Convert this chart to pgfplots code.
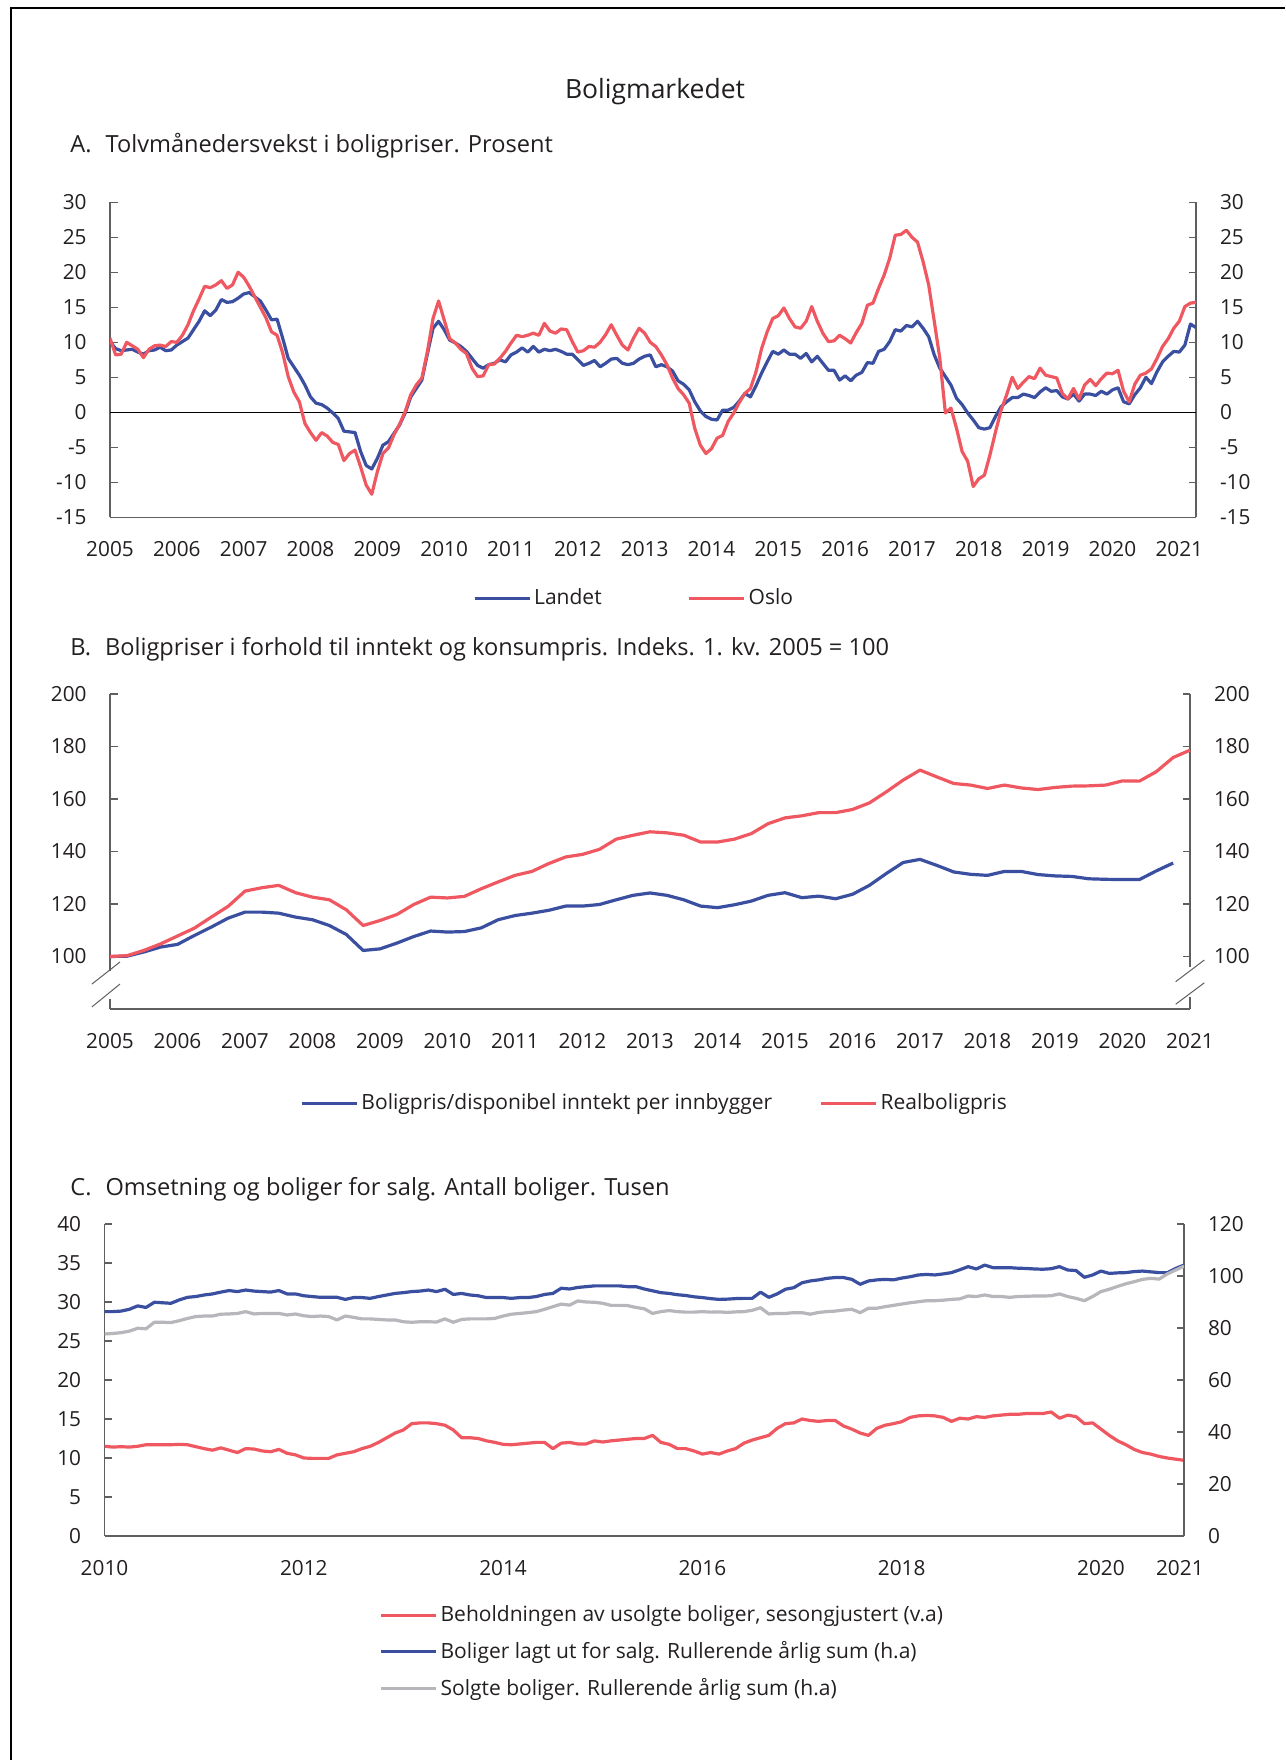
\documentclass[border=0pt]{standalone}
\usepackage{fontspec}
\setmainfont{Open Sans}
\usepackage{pgfplots}
\pgfplotsset{compat=1.18}
\definecolor{cblue}{RGB}{58,79,160}
\definecolor{cred}{RGB}{239,88,96}
\definecolor{cgray}{RGB}{182,182,187}
\definecolor{ctext}{RGB}{35,31,32}
\definecolor{caxis}{RGB}{95,95,95}
\pgfplotsset{
  base/.style={
    scale only axis,
    anchor=south west,
    /pgf/number format/assume math mode=true,
    tick label style={font=\fontsize{10.4}{12}\selectfont, text=ctext},
    tick align=inside,
    major tick length=3.75pt,
    ytick style={caxis, line width=0.6pt},
    xtick style={draw=none},
    axis line style={caxis, line width=0.7pt},
    yticklabel style={inner sep=0pt},
    xticklabel style={inner sep=0pt, anchor=north},
    xticklabel shift=12pt,
    yticklabel shift=11.5pt,
    legend cell align=left,
    legend image code/.code={\draw[#1] (0pt,0pt) -- (27.5pt,0pt);},
    legend style={draw=none, fill=none, inner sep=0pt, font=\fontsize{10.5}{12}\selectfont, text=ctext,
      nodes={inner sep=0pt},
      /tikz/every odd column/.append style={column sep=1.4pt}},
  },
  rlab/.style={
    axis line style={draw=none}, ytick style={draw=none}, xtick=\empty,
    yticklabel pos=right, yticklabel shift=11.8pt,
  },
  dl/.style={line width=1.6pt, line join=round},
}
\begin{document}
\begin{tikzpicture}
\path[use as bounding box] (0,0) rectangle (642.5pt,880pt);
\draw[line width=1.3pt] (5.5pt,0pt) -- (5.5pt,876pt) -- (642.5pt,876pt);
\node[font=\fontsize{13.25}{15}\selectfont, text=ctext] at (327.5pt,834pt) {Boligmarkedet};
\node[anchor=west, font=\fontsize{11.8}{13}\selectfont, text=ctext, inner sep=0pt] at (35pt,807pt) {A.\hspace{7pt}Tolvmånedersvekst i boligpriser. Prosent};
\node[anchor=west, font=\fontsize{11.8}{13}\selectfont, text=ctext, inner sep=0pt] at (35pt,555.5pt) {B.\hspace{7pt}Boligpriser i forhold til inntekt og konsumpris. Indeks. 1. kv. 2005 = 100};
\node[anchor=west, font=\fontsize{11.8}{13}\selectfont, text=ctext, inner sep=0pt] at (35pt,285.5pt) {C.\hspace{7pt}Omsetning og boliger for salg. Antall boliger. Tusen};

% ---------------- Panel A
\begin{axis}[base, at={(55pt,621.35pt)}, width=543pt, height=157.5pt,
  xmin=0, xmax=195, ymin=-15, ymax=30,
  axis x line*=bottom, axis y line*=box,
  ytick={-15,-10,...,30}, yticklabel pos=left,
  xtick={0,12,...,192},
  xticklabels={2005,2006,2007,2008,2009,2010,2011,2012,2013,2014,2015,2016,2017,2018,2019,2020,2021},
  legend style={at={(0.334,-0.257)}, anchor=west, legend columns=2,
    /tikz/every even column/.append style={column sep=43pt}},
]
\draw[black, line width=0.5pt] (axis cs:0,0) -- (axis cs:195,0);
\addplot[cblue, dl] coordinates {
(0,10.1)(1,9.1)(2,8.8)(3,8.9)(4,9.0)(5,8.6)(6,8.3)(7,8.8)(8,8.9)(9,9.3)(10,8.8)(11,8.9)
(12,9.6)(13,10.1)(14,10.6)(15,11.8)(16,13.0)(17,14.5)(18,13.8)(19,14.6)(20,16.1)(21,15.7)(22,15.8)(23,16.3)
(24,16.9)(25,17.1)(26,16.5)(27,15.9)(28,14.6)(29,13.2)(30,13.3)(31,10.6)(32,7.7)(33,6.5)(34,5.3)(35,3.9)
(36,2.2)(37,1.3)(38,1.1)(39,0.6)(40,-0.1)(41,-0.9)(42,-2.7)(43,-2.8)(44,-2.9)(45,-5.6)(46,-7.6)(47,-8.1)
(48,-6.6)(49,-4.7)(50,-4.2)(51,-3.0)(52,-1.8)(53,-0.1)(54,2.2)(55,3.4)(56,4.6)(57,8.4)(58,12.0)(59,13.0)
(60,11.8)(61,10.3)(62,9.9)(63,9.4)(64,8.7)(65,7.7)(66,6.7)(67,6.3)(68,6.8)(69,7.0)(70,7.5)(71,7.2)
(72,8.2)(73,8.6)(74,9.2)(75,8.6)(76,9.4)(77,8.6)(78,9.0)(79,8.8)(80,9.0)(81,8.7)(82,8.3)(83,8.3)
(84,7.5)(85,6.7)(86,7.0)(87,7.4)(88,6.5)(89,7.0)(90,7.6)(91,7.7)(92,7.0)(93,6.8)(94,7.0)(95,7.6)
(96,8.0)(97,8.2)(98,6.5)(99,6.8)(100,6.5)(101,5.9)(102,4.5)(103,4.0)(104,3.2)(105,1.5)(106,0.2)(107,-0.6)
(108,-1.0)(109,-1.1)(110,0.3)(111,0.3)(112,0.7)(113,1.6)(114,2.7)(115,2.2)(116,3.8)(117,5.6)(118,7.2)(119,8.7)
(120,8.3)(121,8.9)(122,8.3)(123,8.3)(124,7.7)(125,8.4)(126,7.2)(127,8.0)(128,7.0)(129,6.0)(130,6.0)(131,4.6)
(132,5.2)(133,4.5)(134,5.3)(135,5.7)(136,7.1)(137,7.0)(138,8.7)(139,9.0)(140,10.1)(141,11.8)(142,11.6)(143,12.4)
(144,12.2)(145,13.0)(146,12.0)(147,10.8)(148,8.2)(149,6.3)(150,5.1)(151,3.9)(152,2.0)(153,1.1)(154,-0.1)(155,-1.1)
(156,-2.2)(157,-2.4)(158,-2.2)(159,-0.6)(160,0.8)(161,1.5)(162,2.1)(163,2.1)(164,2.6)(165,2.4)(166,2.1)(167,2.9)
(168,3.5)(169,3.0)(170,3.1)(171,2.2)(172,1.9)(173,2.6)(174,1.6)(175,2.6)(176,2.6)(177,2.4)(178,3.0)(179,2.6)
(180,3.2)(181,3.5)(182,1.5)(183,1.2)(184,2.5)(185,3.5)(186,5.0)(187,4.1)(188,5.8)(189,7.2)(190,8.0)(191,8.7)
(192,8.6)(193,9.6)(194,12.6)(195,12.1)};
\addlegendentry{Landet}
\addplot[cred, dl] coordinates {
(0,10.6)(1,8.2)(2,8.3)(3,10.0)(4,9.5)(5,9.0)(6,7.8)(7,9.0)(8,9.5)(9,9.6)(10,9.4)(11,10.1)
(12,10.0)(13,11.0)(14,12.5)(15,14.5)(16,16.2)(17,18.0)(18,17.8)(19,18.2)(20,18.8)(21,17.7)(22,18.2)(23,20.0)
(24,19.3)(25,18.0)(26,16.5)(27,15.0)(28,13.5)(29,11.5)(30,11.0)(31,8.5)(32,5.1)(33,2.9)(34,1.5)(35,-1.6)
(36,-2.9)(37,-4.0)(38,-2.9)(39,-3.4)(40,-4.3)(41,-4.6)(42,-6.9)(43,-5.9)(44,-5.4)(45,-7.8)(46,-10.4)(47,-11.7)
(48,-8.5)(49,-5.9)(50,-5.1)(51,-3.2)(52,-1.7)(53,0.1)(54,2.5)(55,3.9)(56,4.9)(57,8.7)(58,13.4)(59,15.9)
(60,13.2)(61,10.5)(62,9.9)(63,9.0)(64,8.4)(65,6.3)(66,5.1)(67,5.2)(68,6.8)(69,6.9)(70,7.7)(71,8.7)
(72,9.9)(73,11.0)(74,10.8)(75,11.0)(76,11.3)(77,11.0)(78,12.7)(79,11.6)(80,11.3)(81,11.9)(82,11.8)(83,10.1)
(84,8.6)(85,8.8)(86,9.4)(87,9.3)(88,10.0)(89,11.1)(90,12.5)(91,11.0)(92,9.6)(93,8.9)(94,10.6)(95,12.0)
(96,11.3)(97,10.0)(98,9.4)(99,8.2)(100,6.8)(101,4.9)(102,3.4)(103,2.5)(104,1.3)(105,-2.3)(106,-4.7)(107,-5.9)
(108,-5.2)(109,-3.7)(110,-3.3)(111,-1.3)(112,-0.1)(113,1.4)(114,2.7)(115,3.4)(116,5.8)(117,9.1)(118,11.5)(119,13.4)
(120,13.8)(121,14.9)(122,13.4)(123,12.2)(124,12.0)(125,13.0)(126,15.1)(127,13.0)(128,11.3)(129,10.1)(130,10.2)(131,11.0)
(132,10.5)(133,9.9)(134,11.4)(135,12.7)(136,15.3)(137,15.6)(138,17.7)(139,19.6)(140,22.0)(141,25.3)(142,25.4)(143,26.0)
(144,25.0)(145,24.3)(146,21.5)(147,18.2)(148,13.0)(149,7.7)(150,-0.1)(151,0.6)(152,-2.3)(153,-5.6)(154,-7.0)(155,-10.6)
(156,-9.5)(157,-9.0)(158,-6.1)(159,-2.8)(160,0.3)(161,2.5)(162,5.0)(163,3.4)(164,4.3)(165,5.1)(166,4.8)(167,6.3)
(168,5.3)(169,5.1)(170,4.9)(171,2.7)(172,1.9)(173,3.4)(174,1.9)(175,3.9)(176,4.7)(177,3.8)(178,4.8)(179,5.6)
(180,5.5)(181,6.0)(182,3.0)(183,1.5)(184,4.0)(185,5.3)(186,5.6)(187,6.2)(188,7.7)(189,9.4)(190,10.5)(191,12.0)
(192,13.0)(193,15.1)(194,15.6)(195,15.7)};
\addlegendentry{Oslo}
\end{axis}
\begin{axis}[base, rlab, at={(55pt,621.35pt)}, width=543pt, height=157.5pt,
  xmin=0, xmax=195, ymin=-15, ymax=30, ytick={-15,-10,...,30}]
\end{axis}

% ---------------- Panel B
\begin{axis}[base, at={(55pt,375.5pt)}, width=540pt, height=157.5pt,
  xmin=0, xmax=64, ymin=80, ymax=200, clip=false,
  axis x line*=bottom, axis y line*=box, y axis line style={draw=none},
  ytick={100,120,...,200}, yticklabel pos=left,
  xtick={0,4,...,64},
  xticklabels={2005,2006,2007,2008,2009,2010,2011,2012,2013,2014,2015,2016,2017,2018,2019,2020,2021},
  legend style={at={(0.176,-0.299)}, anchor=west, legend columns=2,
    /tikz/every even column/.append style={column sep=23.75pt}},
]
\draw[caxis, line width=0.7pt] (axis cs:0,200) -- (axis cs:0,94.5);
\draw[caxis, line width=0.7pt] (axis cs:0,83.8) -- (axis cs:0,80);
\draw[caxis, line width=0.7pt] (axis cs:64,200) -- (axis cs:64,96.1);
\draw[caxis, line width=0.7pt] (axis cs:64,84.7) -- (axis cs:64,80);
\draw[caxis, line width=0.5pt] (axis cs:-1.07,89.5) -- (axis cs:0.59,97.9);
\draw[caxis, line width=0.5pt] (axis cs:-1.07,80.8) -- (axis cs:0.59,89.5);
\draw[caxis, line width=0.5pt] (axis cs:63.15,90.4) -- (axis cs:64.85,98.67);
\draw[caxis, line width=0.5pt] (axis cs:63.15,81.8) -- (axis cs:64.85,90.0);
\addplot[cblue, dl] coordinates {
(0,100.0)(1,100.1)(2,101.7)(3,103.6)(4,104.6)(5,108.0)(6,111.2)(7,114.6)(8,116.9)(9,116.9)(10,116.5)(11,115.0)
(12,114.0)(13,111.8)(14,108.4)(15,102.3)(16,102.9)(17,105.1)(18,107.6)(19,109.7)(20,109.3)(21,109.5)(22,110.9)(23,114.0)
(24,115.6)(25,116.5)(26,117.6)(27,119.2)(28,119.2)(29,119.8)(30,121.6)(31,123.3)(32,124.2)(33,123.3)(34,121.6)(35,119.2)
(36,118.6)(37,119.7)(38,121.1)(39,123.3)(40,124.3)(41,122.4)(42,123.0)(43,122.0)(44,123.7)(45,127.1)(46,131.6)(47,135.8)
(48,137.0)(49,134.7)(50,132.2)(51,131.3)(52,130.9)(53,132.4)(54,132.4)(55,131.2)(56,130.7)(57,130.5)(58,129.6)(59,129.4)
(60,129.3)(61,129.3)(62,132.6)(63,135.6)};
\addlegendentry{Boligpris/disponibel inntekt per innbygger}
\addplot[cred, dl] coordinates {
(0,100.0)(1,100.3)(2,102.3)(3,104.8)(4,107.8)(5,110.8)(6,115.0)(7,119.1)(8,124.9)(9,126.2)(10,127.1)(11,124.3)
(12,122.6)(13,121.6)(14,117.8)(15,111.8)(16,113.7)(17,116.0)(18,119.8)(19,122.6)(20,122.3)(21,122.9)(22,125.8)(23,128.4)
(24,130.9)(25,132.4)(26,135.4)(27,137.9)(28,138.9)(29,140.8)(30,144.7)(31,146.2)(32,147.5)(33,147.1)(34,146.2)(35,143.6)
(36,143.6)(37,144.7)(38,146.8)(39,150.6)(40,152.8)(41,153.6)(42,154.8)(43,154.8)(44,156.0)(45,158.5)(46,162.7)(47,167.2)
(48,171.0)(49,168.4)(50,165.9)(51,165.3)(52,164.0)(53,165.3)(54,164.2)(55,163.6)(56,164.4)(57,164.9)(58,165.0)(59,165.3)
(60,166.9)(61,166.8)(62,170.4)(63,175.8)(64,178.6)};
\addlegendentry{Realboligpris}
\end{axis}
\begin{axis}[base, rlab, at={(55pt,375.5pt)}, width=540pt, height=157.5pt,
  xmin=0, xmax=64, ymin=80, ymax=200, ytick={100,120,...,200}]
\end{axis}

% ---------------- Panel C
\begin{axis}[base, at={(52.25pt,112pt)}, width=539.75pt, height=156pt,
  xmin=0, xmax=130, ymin=0, ymax=40,
  axis x line*=bottom, axis y line*=left,
  ytick={0,5,...,40},
  xtick={0,24,48,72,96,120,129.5},
  xticklabels={2010,2012,2014,2016,2018,2020,2021},
]
\addplot[cred, dl] coordinates {
(0,11.5)(1,11.4)(2,11.45)(3,11.4)(4,11.5)(5,11.7)(6,11.7)(7,11.7)(8,11.7)(9,11.75)(10,11.7)(11,11.45)
(12,11.2)(13,11.0)(14,11.3)(15,11.0)(16,10.7)(17,11.2)(18,11.15)(19,10.9)(20,10.8)(21,11.1)(22,10.6)(23,10.4)
(24,10.0)(25,9.95)(26,9.95)(27,9.95)(28,10.4)(29,10.6)(30,10.8)(31,11.2)(32,11.5)(33,12.0)(34,12.6)(35,13.2)
(36,13.6)(37,14.4)(38,14.5)(39,14.5)(40,14.4)(41,14.2)(42,13.6)(43,12.6)(44,12.6)(45,12.5)(46,12.2)(47,12.0)
(48,11.75)(49,11.7)(50,11.8)(51,11.9)(52,12.0)(53,12.0)(54,11.2)(55,11.9)(56,12.0)(57,11.8)(58,11.8)(59,12.2)
(60,12.05)(61,12.2)(62,12.3)(63,12.4)(64,12.5)(65,12.5)(66,12.9)(67,12.0)(68,11.75)(69,11.2)(70,11.2)(71,10.9)
(72,10.5)(73,10.7)(74,10.5)(75,10.9)(76,11.2)(77,11.9)(78,12.3)(79,12.6)(80,12.9)(81,13.8)(82,14.4)(83,14.5)
(84,15.0)(85,14.8)(86,14.7)(87,14.8)(88,14.8)(89,14.1)(90,13.7)(91,13.2)(92,12.9)(93,13.8)(94,14.2)(95,14.4)
(96,14.65)(97,15.2)(98,15.4)(99,15.45)(100,15.4)(101,15.2)(102,14.7)(103,15.1)(104,15.0)(105,15.3)(106,15.2)(107,15.4)
(108,15.5)(109,15.6)(110,15.6)(111,15.7)(112,15.7)(113,15.7)(114,15.9)(115,15.1)(116,15.5)(117,15.3)(118,14.4)(119,14.5)
(120,13.7)(121,12.9)(122,12.2)(123,11.7)(124,11.1)(125,10.7)(126,10.5)(127,10.2)(128,10.0)(129,9.85)(130,9.7)};
\end{axis}
\begin{axis}[base, at={(52.25pt,112pt)}, width=539.75pt, height=156pt,
  xmin=0, xmax=130, ymin=0, ymax=120,
  axis x line=none, axis y line*=right,
  ytick={0,20,...,120}, yticklabel pos=right, yticklabel shift=11.8pt, xtick=\empty,
  legend style={at={(0.2545,-0.372)}, anchor=west, row sep=8.4pt},
]
\addlegendimage{cred, dl}
\addlegendentry{Beholdningen av usolgte boliger, sesongjustert (v.a)}
\addplot[cblue, dl] coordinates {
(0,86.3)(1,86.3)(2,86.5)(3,87.2)(4,88.5)(5,87.9)(6,89.9)(7,89.7)(8,89.5)(9,90.8)(10,91.8)(11,92.1)
(12,92.7)(13,93.1)(14,93.8)(15,94.4)(16,94.0)(17,94.6)(18,94.2)(19,94.0)(20,93.8)(21,94.4)(22,93.1)(23,93.1)
(24,92.4)(25,92.1)(26,91.8)(27,91.8)(28,91.8)(29,91.0)(30,91.7)(31,91.7)(32,91.4)(33,92.1)(34,92.7)(35,93.3)
(36,93.6)(37,94.0)(38,94.2)(39,94.6)(40,94.0)(41,94.9)(42,92.9)(43,93.3)(44,92.7)(45,92.4)(46,91.7)(47,91.7)
(48,91.7)(49,91.4)(50,91.7)(51,91.7)(52,92.1)(53,92.9)(54,93.3)(55,95.3)(56,95.0)(57,95.6)(58,95.9)(59,96.2)
(60,96.2)(61,96.2)(62,96.2)(63,95.9)(64,95.9)(65,95.0)(66,94.3)(67,93.6)(68,93.3)(69,92.8)(70,92.5)(71,92.0)
(72,91.7)(73,91.3)(74,91.0)(75,91.1)(76,91.3)(77,91.4)(78,91.4)(79,93.8)(80,91.8)(81,93.1)(82,94.9)(83,95.5)
(84,97.4)(85,98.1)(86,98.5)(87,99.1)(88,99.4)(89,99.4)(90,98.7)(91,96.8)(92,98.1)(93,98.5)(94,98.7)(95,98.5)
(96,99.2)(97,99.7)(98,100.4)(99,100.6)(100,100.4)(101,100.8)(102,101.3)(103,102.4)(104,103.6)(105,102.7)(106,104.2)(107,103.2)
(108,103.2)(109,103.2)(110,103.0)(111,102.9)(112,102.7)(113,102.6)(114,102.8)(115,103.6)(116,102.3)(117,102.1)(118,99.5)(119,100.4)
(120,101.9)(121,101.0)(122,101.2)(123,101.3)(124,101.7)(125,101.9)(126,101.6)(127,101.3)(128,101.3)(129,102.9)(130,104.2)};
\addlegendentry{Boliger lagt ut for salg. Rullerende årlig sum (h.a)}
\addplot[cgray, dl] coordinates {
(0,77.7)(1,77.9)(2,78.2)(3,78.8)(4,79.9)(5,79.7)(6,82.2)(7,82.2)(8,82.1)(9,82.8)(10,83.7)(11,84.4)
(12,84.6)(13,84.6)(14,85.3)(15,85.4)(16,85.6)(17,86.3)(18,85.4)(19,85.6)(20,85.6)(21,85.6)(22,85.0)(23,85.4)
(24,84.7)(25,84.4)(26,84.6)(27,84.4)(28,83.1)(29,84.6)(30,84.1)(31,83.5)(32,83.5)(33,83.3)(34,83.1)(35,83.1)
(36,82.4)(37,82.2)(38,82.4)(39,82.4)(40,82.3)(41,83.5)(42,82.2)(43,83.3)(44,83.5)(45,83.5)(46,83.5)(47,83.7)
(48,84.6)(49,85.3)(50,85.6)(51,85.9)(52,86.3)(53,87.2)(54,88.2)(55,89.2)(56,88.8)(57,90.4)(58,90.0)(59,89.9)
(60,89.5)(61,88.7)(62,88.7)(63,88.6)(64,87.9)(65,87.4)(66,85.6)(67,86.3)(68,86.7)(69,86.3)(70,86.1)(71,86.1)
(72,86.3)(73,86.1)(74,86.2)(75,86.0)(76,86.2)(77,86.3)(78,86.8)(79,87.8)(80,85.4)(81,85.6)(82,85.6)(83,85.9)
(84,85.9)(85,85.3)(86,86.0)(87,86.3)(88,86.5)(89,86.9)(90,87.2)(91,85.9)(92,87.6)(93,87.6)(94,88.2)(95,88.7)
(96,89.2)(97,89.7)(98,90.1)(99,90.5)(100,90.5)(101,90.7)(102,91.0)(103,91.2)(104,92.3)(105,92.1)(106,92.7)(107,92.1)
(108,92.1)(109,91.8)(110,92.1)(111,92.2)(112,92.3)(113,92.3)(114,92.4)(115,93.1)(116,92.1)(117,91.4)(118,90.5)(119,92.1)
(120,94.0)(121,94.9)(122,96.0)(123,97.0)(124,97.8)(125,98.7)(126,99.1)(127,98.8)(128,100.8)(129,102.3)(130,103.8)};
\addlegendentry{Solgte boliger. Rullerende årlig sum (h.a)}
\end{axis}
\end{tikzpicture}
\end{document}
